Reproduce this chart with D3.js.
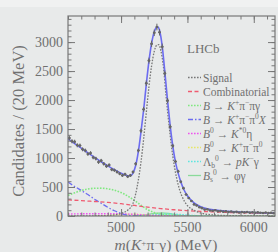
<!DOCTYPE html>
<html>
<head>
<meta charset="utf-8">
<script src="https://cdn.jsdelivr.net/npm/d3@7"></script>
<style>
  body { margin: 0; background: #e8eaea; }
  svg { display: block; }
</style>
</head>
<body>
<script>
// bin centres, 20 MeV wide
const binCenters = d3.range(4610, 6160, 20);
const candidates = [
  1345, 1290, 1280, 1220, 1215, 1150, 1130, 1070, 1085, 1010, 990, 930, 955,
  900, 860, 880, 800, 790, 760, 730, 700, 720, 680, 700, 760,
  900, 1130, 1470, 1840, 2290, 2680, 2970, 3160, 3260, 3170, 2920, 2460, 1990,
  1540, 1210, 940, 770, 590, 480, 370, 310, 260, 200, 180, 150,
  135, 110, 115, 95, 90, 100, 80, 85, 75, 80, 70, 78, 65, 72, 60, 68, 62, 70,
  58, 64, 55, 62, 57, 52, 60, 50, 55, 48
];

// fit curves, [mass, candidates]
const totalFit = [[4600,1330],[4650,1250],[4700,1170],[4750,1090],[4800,1010],[4850,935],
  [4900,865],[4950,800],[5000,740],[5040,700],[5070,695],[5090,740],[5110,870],[5130,1110],
  [5150,1450],[5170,1830],[5190,2270],[5210,2670],[5230,2980],[5250,3180],[5270,3255],
  [5280,3260],[5290,3200],[5310,2930],[5330,2480],[5350,2000],[5370,1560],[5390,1200],
  [5410,930],[5430,740],[5450,590],[5470,470],[5500,350],[5550,225],[5600,160],[5650,125],
  [5700,105],[5800,82],[5900,70],[6000,60],[6100,53],[6160,50]];
const signal = [[4600,0],[4900,8],[4950,20],[5000,45],[5050,100],[5090,220],[5110,380],
  [5130,620],[5150,930],[5170,1330],[5190,1780],[5210,2230],[5230,2590],[5250,2840],
  [5270,2950],[5285,2955],[5300,2850],[5320,2560],[5340,2050],[5360,1600],[5380,1200],
  [5400,880],[5420,640],[5440,460],[5460,335],[5480,245],[5500,180],[5530,125],[5570,75],
  [5620,40],[5700,18],[5800,7],[6000,2],[6160,1]];
const combinatorial = [[4600,278],[4700,265],[4800,250],[4900,235],[5000,212],[5100,182],
  [5200,152],[5300,128],[5400,108],[5500,93],[5600,80],[5700,70],[5800,62],[5900,56],
  [6000,51],[6100,47],[6160,45]];
const kpipiGamma = [[4600,355],[4650,400],[4700,440],[4750,465],[4800,478],[4850,480],
  [4900,470],[4950,445],[5000,405],[5050,345],[5100,270],[5150,185],[5200,110],[5250,60],
  [5300,35],[5350,20],[5450,6],[5550,1],[6160,0]];
const kpipi0X = [[4600,585],[4650,510],[4700,440],[4750,370],[4800,290],[4850,220],
  [4900,150],[4950,90],[5000,45],[5050,15],[5100,3],[5150,0]];
const kstEta = [[4600,35],[4700,38],[4800,40],[4900,40],[5000,37],[5100,28],[5200,15],
  [5300,6],[5400,2],[5500,0]];
const kpipi0 = [[4800,2],[4900,10],[5000,25],[5080,32],[5150,25],[5250,8],[5350,1]];
const lbPKGamma = [[5100,0],[5200,10],[5280,28],[5350,35],[5430,28],[5520,12],[5620,3],[5750,0]];
const bsPhiGamma = [[5100,0],[5180,18],[5250,45],[5310,55],[5370,40],[5430,15],[5500,3],[5580,0]];

const xTicks = [5000, 5500, 6000];
const yTicks = [0, 500, 1000, 1500, 2000, 2500, 3000];

// legend: each label is a list of [text, kind] pieces
const legendItems = [
  { label: [["Signal", ""]], color: "#777", dash: "1.6,1.4", width: 1.3 },
  { label: [["Combinatorial", ""]], color: "#ef5b70", dash: "4,2.5", width: 1.3 },
  { label: [["B", "i"], [" → ", ""], ["K", "i"], ["+", "sup"], ["π", ""], ["−", "sup"], ["πγ", ""]],
    color: "#80e880", dash: "1.6,1.4", width: 1.6 },
  { label: [["B", "i"], [" → ", ""], ["K", "i"], ["+", "sup"], ["π", ""], ["−", "sup"], ["π", ""], ["0", "sup"], ["X", "i"]],
    color: "#6c6cf0", dash: "5,2,1.5,2", width: 1.3 },
  { label: [["B", "i"], ["0", "sup"], [" → ", ""], ["K", "i"], ["*0", "sup"], ["η", ""]],
    color: "#ee55ee", dash: "1.6,1.4", width: 1.4 },
  { label: [["B", "i"], ["0", "sup"], [" → ", ""], ["K", "i"], ["+", "sup"], ["π", ""], ["−", "sup"], ["π", ""], ["0", "sup"]],
    color: "#e6e66a", dash: "1.6,1.4", width: 1.4 },
  { label: [["Λ", ""], ["b", "sub"], ["0", "sup"], [" → ", ""], ["p", "i"], ["K", "i"], ["−", "sup"], ["γ", ""]],
    color: "#5ee6e0", dash: "1.6,1.4", width: 1.4 },
  { label: [["B", "i"], ["s", "sub"], ["0", "sup"], [" → ", ""], ["φγ", ""]],
    color: "#8ada9a", dash: null, width: 1.3 }
];
const curves = [signal, combinatorial, kpipiGamma, kpipi0X, kstEta, kpipi0, lbPKGamma, bsPhiGamma];

const width = 278, height = 252;
const margin = { top: 16, right: 3, bottom: 36, left: 68 };
const textColor = "#707070";
const serif = "'Liberation Serif', 'DejaVu Serif', serif";

const x = d3.scaleLinear().domain([4600, 6160]).range([margin.left, width - margin.right]);
const y = d3.scaleLinear().domain([0, 3450]).range([height - margin.bottom, margin.top]);

const svg = d3.select("body").append("svg")
  .attr("width", width)
  .attr("height", height)
  .attr("font-family", serif);

svg.append("rect").attr("width", width).attr("height", 7).attr("fill", "#f0f1f1");

svg.append("clipPath").attr("id", "plot-clip")
  .append("rect")
  .attr("x", margin.left).attr("y", margin.top)
  .attr("width", width - margin.left - margin.right)
  .attr("height", height - margin.top - margin.bottom);

const plot = svg.append("g").attr("clip-path", "url(#plot-clip)");

const line = d3.line()
  .x(d => x(d[0]))
  .y(d => y(d[1]))
  .curve(d3.curveMonotoneX);

// background components first, signal on top of them
[7, 6, 5, 4, 3, 2, 1, 0].forEach(i => {
  const it = legendItems[i];
  plot.append("path")
    .attr("d", line(curves[i]))
    .attr("fill", "none")
    .attr("stroke", it.color)
    .attr("stroke-width", it.width)
    .attr("stroke-dasharray", it.dash);
});

plot.append("path")
  .attr("d", line(totalFit))
  .attr("fill", "none")
  .attr("stroke", "#6c6cf0")
  .attr("stroke-width", 1.6);

// data with error bars
const dataColor = "#666";
const pts = plot.selectAll("g.pt")
  .data(binCenters.map((m, i) => [m, candidates[i]]))
  .join("g").attr("class", "pt");
pts.append("line")
  .attr("x1", d => x(d[0] - 10)).attr("x2", d => x(d[0] + 10))
  .attr("y1", d => y(d[1])).attr("y2", d => y(d[1]))
  .attr("stroke", dataColor).attr("stroke-width", 1);
pts.append("line")
  .attr("x1", d => x(d[0])).attr("x2", d => x(d[0]))
  .attr("y1", d => y(d[1] - Math.sqrt(d[1]))).attr("y2", d => y(d[1] + Math.sqrt(d[1])))
  .attr("stroke", dataColor).attr("stroke-width", 1);
pts.append("circle")
  .attr("cx", d => x(d[0])).attr("cy", d => y(d[1]))
  .attr("r", 1.3).attr("fill", dataColor);

// frame and inward ticks on all four sides
const frameColor = "#777";
const x0 = margin.left, x1 = width - margin.right;
const y0 = height - margin.bottom, y1 = margin.top;

const styleAxis = g => {
  g.select(".domain").remove();
  g.selectAll("line").attr("stroke", frameColor);
  g.selectAll("text").remove();
};
const minorX = d3.range(4600, 6160, 100);
const minorY = d3.range(0, 3450, 100);

svg.append("g").attr("transform", `translate(0,${y0})`)
  .call(d3.axisBottom(x).tickValues(minorX).tickSize(-3.5)).call(styleAxis);
svg.append("g").attr("transform", `translate(0,${y0})`)
  .call(d3.axisBottom(x).tickValues(xTicks).tickSize(-7)).call(styleAxis);
svg.append("g").attr("transform", `translate(0,${y1})`)
  .call(d3.axisTop(x).tickValues(minorX).tickSize(-3.5)).call(styleAxis);
svg.append("g").attr("transform", `translate(0,${y1})`)
  .call(d3.axisTop(x).tickValues(xTicks).tickSize(-7)).call(styleAxis);
svg.append("g").attr("transform", `translate(${x0},0)`)
  .call(d3.axisLeft(y).tickValues(minorY).tickSize(-3.5)).call(styleAxis);
svg.append("g").attr("transform", `translate(${x0},0)`)
  .call(d3.axisLeft(y).tickValues(yTicks).tickSize(-7)).call(styleAxis);
svg.append("g").attr("transform", `translate(${x1},0)`)
  .call(d3.axisRight(y).tickValues(minorY).tickSize(-3.5)).call(styleAxis);
svg.append("g").attr("transform", `translate(${x1},0)`)
  .call(d3.axisRight(y).tickValues(yTicks).tickSize(-7)).call(styleAxis);

svg.append("rect")
  .attr("x", x0).attr("y", y1)
  .attr("width", x1 - x0).attr("height", y0 - y1)
  .attr("fill", "none").attr("stroke", frameColor).attr("stroke-width", 1.2);

// tick labels
svg.append("g").selectAll("text").data(yTicks).join("text")
  .attr("x", x0 - 5).attr("y", d => y(d)).attr("dy", "0.35em")
  .attr("text-anchor", "end").attr("font-size", 14).attr("fill", textColor)
  .text(d => d);
svg.append("g").selectAll("text").data(xTicks).join("text")
  .attr("x", d => x(d)).attr("y", y0 + 16)
  .attr("text-anchor", "middle").attr("font-size", 14).attr("fill", textColor)
  .text(d => d);

// axis titles
svg.append("text")
  .attr("transform", `translate(24,${(y0 + y1) / 2 + 5}) rotate(-90)`)
  .attr("text-anchor", "middle").attr("font-size", 16.5).attr("fill", textColor)
  .text("Candidates / (20 MeV)");

const xt = svg.append("text")
  .attr("x", 166).attr("y", 250)
  .attr("text-anchor", "middle").attr("font-size", 15.5).attr("fill", textColor);
xt.append("tspan").attr("font-style", "italic").text("m");
xt.append("tspan").text("(");
xt.append("tspan").attr("font-style", "italic").text("K");
xt.append("tspan").attr("font-size", 9).attr("dy", -4).text("+");
xt.append("tspan").attr("dy", 4).text("π");
xt.append("tspan").attr("font-size", 9).attr("dy", -4).text("−");
xt.append("tspan").attr("dy", 4).text("γ) (MeV)");

// LHCb label
svg.append("text")
  .attr("x", 187).attr("y", 53)
  .attr("font-size", 13).attr("fill", textColor)
  .text("LHCb");

// legend
const legend = svg.append("g");
legendItems.forEach((it, i) => {
  const ry = 77.5 + i * 14;
  legend.append("line")
    .attr("x1", 188).attr("x2", 201).attr("y1", ry).attr("y2", ry)
    .attr("stroke", it.color).attr("stroke-width", it.width)
    .attr("stroke-dasharray", it.dash);
  const t = legend.append("text")
    .attr("x", 203).attr("y", ry + 4)
    .attr("font-size", 11.5).attr("fill", textColor);
  let shift = 0;
  it.label.forEach(([s, kind]) => {
    const ts = t.append("tspan").text(s);
    let target = 0;
    if (kind === "i") ts.attr("font-style", "italic");
    if (kind === "sup") { ts.attr("font-size", 7.5); target = -4.5; }
    if (kind === "sub") { ts.attr("font-size", 7.5); target = 2.5; }
    ts.attr("dy", target - shift);
    shift = target;
  });
});
</script>
</body>
</html>
